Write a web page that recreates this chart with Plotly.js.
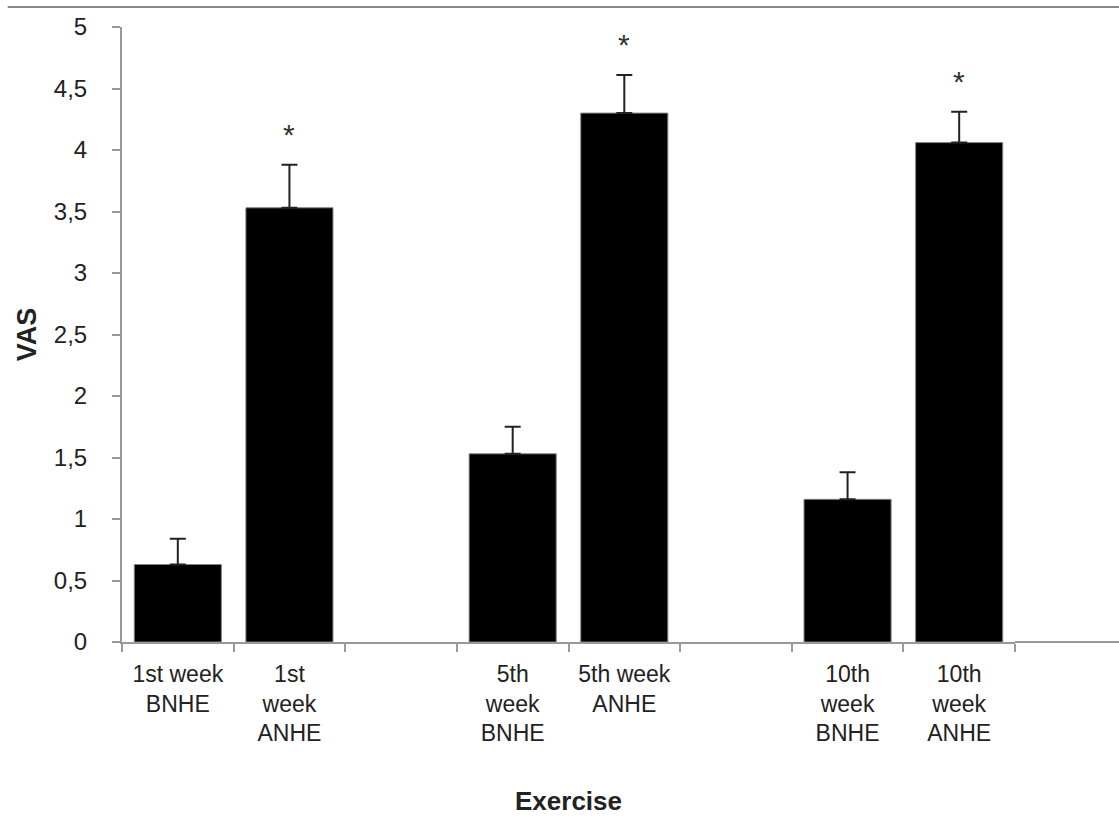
<!DOCTYPE html>
<html>
<head>
<meta charset="utf-8">
<script src="https://cdn.plot.ly/plotly-3.0.1.min.js"></script>
<style>html,body{margin:0;padding:0;background:#fff;}#chart{width:1119px;height:816px;}</style>
</head>
<body>
<div id="chart"></div>
<script>
var categories = ["1st week<br>BNHE", "1st<br>week<br>ANHE", " ", "5th<br>week<br>BNHE", "5th week<br>ANHE", "  ", "10th<br>week<br>BNHE", "10th<br>week<br>ANHE"];
var barCategories = ["1st week<br>BNHE", "1st<br>week<br>ANHE", "5th<br>week<br>BNHE", "5th week<br>ANHE", "10th<br>week<br>BNHE", "10th<br>week<br>ANHE"];
var vasMean = [0.63, 3.53, 1.53, 4.30, 1.16, 4.06];
var vasError = [0.21, 0.35, 0.22, 0.31, 0.22, 0.25];
var significance = ["", "*", "", "*", "", "*"];
var yTicks = [0, 0.5, 1, 1.5, 2, 2.5, 3, 3.5, 4, 4.5, 5];

var trace = {
  type: "bar",
  x: barCategories,
  y: vasMean,
  marker: {color: "#000000", line: {color: "#808080", width: 1}},
  error_y: {type: "data", symmetric: false, array: vasError, arrayminus: vasError.map(function(){return 0;}), color: "#222222", thickness: 2, width: 8},
  hoverinfo: "none"
};

var annotations = [];
for (var i = 0; i < barCategories.length; i++) {
  if (significance[i]) {
    annotations.push({x: barCategories[i], y: vasMean[i] + vasError[i] + 0.25, xref: "x", yref: "y", text: significance[i], showarrow: false, font: {family: "Liberation Sans, Arial, sans-serif", size: 30, color: "#333"}});
  }
}

var layout = {
  width: 1119, height: 816,
  margin: {l: 122, r: 104, t: 27, b: 174},
  paper_bgcolor: "#fff", plot_bgcolor: "#fff",
  separators: ", ",
  showlegend: false,
  bargap: 0.22,
  font: {family: "Liberation Sans, Arial, sans-serif", size: 24, color: "#222"},
  xaxis: {
    type: "category",
    categoryorder: "array",
    categoryarray: categories,
    range: [-0.5, 7.5],
    tickson: "boundaries",
    ticks: "outside", ticklen: 8, tickcolor: "#999", tickwidth: 2,
    ticklabelstandoff: 10,
    showline: true, linecolor: "#999", linewidth: 2,
    showgrid: false, zeroline: false,
    tickfont: {size: 23, color: "#222"},
    title: {text: "<b>Exercise</b>", font: {size: 26, color: "#222"}, standoff: 50},
    automargin: false
  },
  yaxis: {
    range: [0, 5],
    tickvals: yTicks,
    ticks: "outside", ticklen: 8, tickcolor: "#999", tickwidth: 2,
    ticklabelstandoff: 20,
    showline: true, linecolor: "#999", linewidth: 2,
    showgrid: false, zeroline: false,
    tickfont: {size: 24, color: "#222"},
    title: {text: "<b>VAS</b>", font: {size: 27, color: "#222"}, standoff: 9},
    automargin: false
  },
  annotations: annotations,
  shapes: [
    {type: "line", xref: "paper", yref: "paper", x0: -0.128, x1: 1.2, y0: 1.0325, y1: 1.0325, line: {color: "#888", width: 2}},
    {type: "line", xref: "paper", yref: "paper", x0: 1, x1: 1.2, y0: 0, y1: 0, line: {color: "#999", width: 2}}
  ]
};

Plotly.newPlot("chart", [trace], layout, {displayModeBar: false, staticPlot: true});
</script>
</body>
</html>
